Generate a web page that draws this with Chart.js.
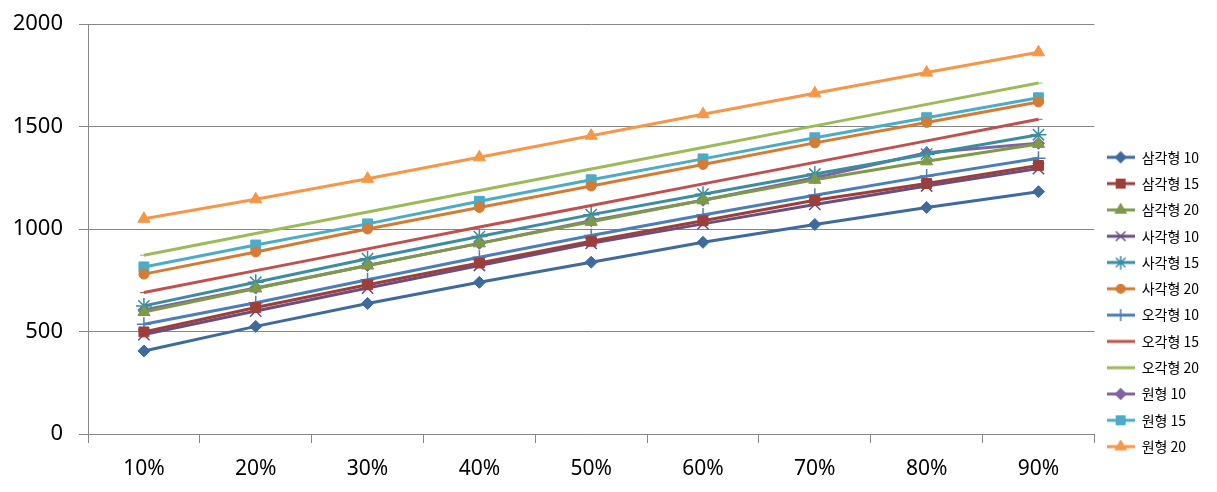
<!DOCTYPE html>
<html>
<head>
<meta charset="utf-8">
<script src="https://cdn.jsdelivr.net/npm/chart.js@4/dist/chart.umd.min.js"></script>
<style>
  body { margin: 0; background: #fff; }
  #wrap { width: 1217px; height: 492px; position: relative; }
</style>
</head>
<body>
<div id="wrap"><canvas id="chart"></canvas></div>
<script>
const categories = ['10%', '20%', '30%', '40%', '50%', '60%', '70%', '80%', '90%'];
const yTicks = [0, 500, 1000, 1500, 2000];

const seriesNames = ['삼각형 10', '삼각형 15', '삼각형 20', '사각형 10', '사각형 15', '사각형 20',
                     '오각형 10', '오각형 15', '오각형 20', '원형 10', '원형 15', '원형 20'];

const triangle10 = [405, 525, 637, 740, 838, 935, 1022, 1105, 1182];
const triangle15 = [498, 617, 728, 834, 940, 1040, 1140, 1222, 1310];
const triangle20 = [595, 710, 822, 930, 1035, 1140, 1240, 1330, 1415];
const square10   = [485, 600, 712, 822, 930, 1025, 1120, 1210, 1295];
const square15   = [625, 740, 855, 963, 1070, 1170, 1268, 1365, 1460];
const square20   = [780, 888, 1000, 1105, 1210, 1315, 1420, 1520, 1620];
const pentagon10 = [535, 640, 752, 862, 968, 1068, 1165, 1258, 1345];
const pentagon15 = [690, 797, 903, 1010, 1115, 1220, 1325, 1430, 1535];
const pentagon20 = [872, 978, 1083, 1188, 1293, 1398, 1503, 1608, 1712];
const circle10   = [605, 712, 822, 930, 1040, 1140, 1250, 1372, 1418];
const circle15   = [815, 922, 1025, 1135, 1240, 1342, 1445, 1543, 1640];
const circle20   = [1050, 1145, 1245, 1350, 1455, 1560, 1662, 1763, 1862];

const seriesValues = [triangle10, triangle15, triangle20, square10, square15, square20,
                      pentagon10, pentagon15, pentagon20, circle10, circle15, circle20];

const colors = ['#3E6A9E', '#9E3E3B', '#7E9A47', '#674F85', '#3A8CA2', '#D67B33',
                '#4A7EBB', '#C0504D', '#9BBB59', '#8064A2', '#4BACC6', '#F79646'];
const markers = ['rectRot', 'rect', 'triangle', 'crossRot', 'star', 'circle',
                 'cross', 'line', 'line', 'rectRot', 'rect', 'triangle'];
const markerSize = { rectRot: 6, rect: 7, triangle: 7, crossRot: 8, star: 8, circle: 5, cross: 7, line: 4 };

// small line+marker icons for the legend, like the spreadsheet legend
function makeIcon(color, style) {
    const c = document.createElement('canvas');
    c.width = 28; c.height = 14;
    const ctx = c.getContext('2d');
    ctx.strokeStyle = color;
    ctx.fillStyle = color;
    ctx.lineWidth = 3;
    ctx.beginPath();
    ctx.moveTo(0, 7);
    ctx.lineTo(28, 7);
    ctx.stroke();
    if (style !== 'line' && Chart.helpers && Chart.helpers.drawPoint) {
        ctx.lineWidth = 1.5;
        Chart.helpers.drawPoint(ctx, { pointStyle: style, radius: markerSize[style] * 0.85, rotation: 0, borderWidth: 1 }, 14, 7);
    }
    return c;
}
const legendIcons = colors.map((c, i) => makeIcon(c, markers[i]));

const datasets = seriesNames.map((name, i) => ({
    label: name,
    data: seriesValues[i],
    borderColor: colors[i],
    backgroundColor: colors[i],
    borderWidth: 3,
    pointStyle: markers[i],
    pointRadius: markerSize[markers[i]],
    pointBackgroundColor: colors[i],
    pointBorderColor: colors[i],
    pointBorderWidth: (markers[i] === 'crossRot' || markers[i] === 'star' || markers[i] === 'cross') ? 1.5 : 1,
    tension: 0
}));

const axisColor = '#868686';

new Chart(document.getElementById('chart').getContext('2d'), {
    type: 'line',
    data: { labels: categories, datasets: datasets },
    options: {
        responsive: true,
        maintainAspectRatio: false,
        animation: false,
        layout: { padding: { top: 24, right: 8, bottom: 0, left: 0 } },
        plugins: {
            tooltip: { enabled: false },
            legend: {
                position: 'right',
                align: 'start',
                title: { display: true, text: '', font: { size: 10 }, padding: { top: 0, bottom: 102 } },
                labels: {
                    usePointStyle: true,
                    pointStyleWidth: 28,
                    padding: 12.3,
                    color: '#000',
                    font: { family: "'Noto Sans CJK KR', 'Noto Sans', sans-serif", size: 14 },
                    generateLabels(chart) {
                        const items = Chart.defaults.plugins.legend.labels.generateLabels(chart);
                        items.forEach((it, i) => { it.pointStyle = legendIcons[i]; });
                        return items;
                    }
                }
            }
        },
        scales: {
            x: {
                offset: true,
                afterFit(scale) { scale.height = 58; },
                grid: { offset: true, drawOnChartArea: false, drawTicks: true, tickLength: 9, color: axisColor },
                border: { color: axisColor },
                ticks: { color: '#000', padding: 13, maxRotation: 0,
                         font: { family: "'Noto Sans', sans-serif", size: 21 } }
            },
            y: {
                min: 0,
                max: 2000,
                afterFit(scale) {
                    scale.width = 88;
                    scale.paddingTop = 0;
                    scale.paddingBottom = 0;
                },
                afterBuildTicks(scale) { scale.ticks = yTicks.map(v => ({ value: v })); },
                grid: { color: axisColor, tickLength: 9, drawTicks: true },
                border: { color: axisColor },
                ticks: { color: '#000', padding: 16, callback: v => String(v),
                         font: { family: "'Noto Sans', sans-serif", size: 22 } }
            }
        }
    }
});
</script>
</body>
</html>
